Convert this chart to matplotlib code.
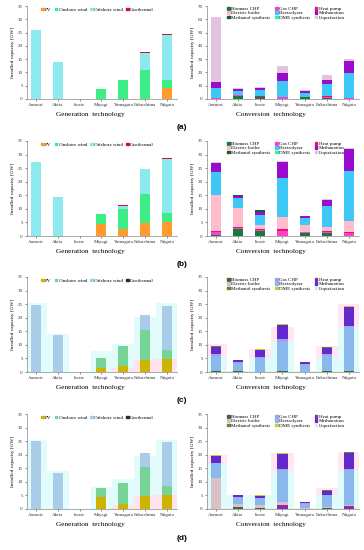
import numpy as np
import matplotlib.pyplot as plt
from matplotlib.patches import Patch

plt.rcParams['font.family'] = ['Liberation Serif', 'DejaVu Serif']

prefs = ['Aomori', 'Akita', 'Iwate', 'Miyagi', 'Yamagata', 'Fukushima', 'Niigata']

gen_names = ['PV', 'Onshore wind', 'Offshore wind', 'Geothermal']
conv_names = ['Biomass CHP', 'Gas CHP', 'Heat pump', 'Electric boiler', 'Electrolyzer',
              'Methanation', 'Methanol synthesis', 'DME synthesis', 'Liquefaction']

# generation capacity [GW] per scenario: PV, onshore, offshore, geothermal
gen_a = [[0, 0, 0, 0, 0, 0, 4.3],
         [0, 0, 0, 3.7, 7.0, 10.8, 2.7],
         [25.8, 14.0, 0, 0, 0.1, 6.6, 16.9],
         [0, 0, 0, 0, 0.2, 0.2, 0.5]]
gen_b = [[0, 0, 0, 4.3, 2.6, 4.7, 5.3],
         [0, 0, 0, 3.7, 7.2, 10.8, 3.0],
         [27.3, 14.2, 0, 0, 1.2, 9.1, 19.9],
         [0, 0, 0, 0, 0.3, 0, 0.6]]
gen_c = [[0, 0, 0, 1.6, 2.1, 4.6, 4.8],
         [0, 0, 0, 3.7, 7.5, 10.8, 3.3],
         [24.8, 13.7, 0, 0, 0, 5.5, 16.4],
         [0, 0, 0, 0, 0, 0, 0]]
gen_d = [[0, 0, 0, 4.5, 1.9, 4.8, 5.1],
         [0, 0, 0, 3.4, 7.5, 10.5, 3.2],
         [25.0, 13.2, 0, 0, 0, 5.5, 16.3],
         [0, 0, 0, 0, 0, 0, 0]]

# faded background of scenarios (c) and (d): total and PV part
gen_c_bg_total = [25.4, 14.0, 0, 7.6, 10.4, 20.1, 25.3]
gen_c_bg_pv = [0, 0, 0, 0, 1.4, 4.8, 4.8]
gen_d_bg_total = [25.5, 14.0, 0, 8.0, 10.9, 19.6, 25.6]
gen_d_bg_pv = [0, 0, 0, 0, 1.5, 5.0, 5.0]

# conversion capacity [GW]: bio, gas, heat pump, e-boiler, electrolyzer, methanation, methanol, DME, liquefaction
conv_a = [[0, 2.5, 1.3, 0, 1.2, 1.0, 0],
          [0.5, 0.3, 0.3, 1.3, 0, 0.3, 0.8],
          [0, 0.2, 0.7, 0, 0.2, 0.7, 0],
          [0, 0, 0, 0, 0, 0, 0],
          [8.0, 3.0, 4.2, 12.2, 3.1, 9.0, 18.7],
          [4.0, 1.5, 1.5, 6.0, 1.3, 3.5, 9.0],
          [0, 0, 0, 0, 0, 0, 0],
          [0, 0, 0, 0, 0, 0, 0],
          [49.5, 1.0, 1.3, 5.5, 1.0, 3.5, 1.5]]
conv_b = [[0.2, 2.5, 2.0, 0, 1.2, 1.0, 0],
          [1.3, 0.3, 0.2, 2.0, 0.1, 0.5, 1.2],
          [0.2, 0.4, 0.4, 0.5, 0.2, 0.3, 0.3],
          [13.3, 7.1, 1.5, 4.5, 2.7, 1.4, 4.1],
          [8.5, 3.7, 3.8, 14.5, 2.6, 7.8, 18.4],
          [3.3, 0.7, 1.1, 5.8, 0.5, 2.3, 8.0],
          [0.1, 0.3, 0.4, 0.1, 0.1, 0.1, 0.2],
          [0.1, 0, 0, 0, 0, 0, 0],
          [0.1, 0.1, 0.1, 0.1, 0.1, 0.1, 0.2]]
conv_c = [[0.3, 0.3, 0.1, 0.5, 0.1, 0.2, 0.5],
          [0.6, 0.3, 0.4, 1.2, 0.3, 0.5, 0.3],
          [0, 0, 0, 0, 0, 0, 0],
          [0, 0, 0, 0, 0, 0, 0],
          [5.7, 3.0, 5.1, 10.5, 2.5, 5.8, 16.0],
          [2.7, 0.7, 2.4, 5.1, 0.7, 2.5, 7.0],
          [0.1, 0.2, 0.2, 0.2, 0.1, 0.1, 0.3],
          [0.1, 0.1, 0.1, 0.1, 0.1, 0.1, 0.2],
          [0, 0, 0, 0, 0, 0, 0]]
conv_d = [[0, 0.6, 0.3, 0, 0.1, 0.3, 0],
          [0.2, 0.2, 0.2, 0.4, 0.1, 0.2, 0.3],
          [0, 0, 0, 1.6, 0, 0, 1.0],
          [11.3, 1.4, 1.2, 1.0, 0.3, 0.3, 0.6],
          [5.6, 2.2, 2.5, 11.6, 1.6, 4.4, 12.8],
          [2.4, 0.7, 0.6, 5.5, 0.3, 1.6, 6.0],
          [0.2, 0.1, 0.1, 0.2, 0.1, 0.1, 0.2],
          [0.1, 0.1, 0.1, 0.2, 0.1, 0.1, 0.1],
          [0, 0, 0, 0, 0, 0, 0]]

conv_c_bg_ely = [5.0, 0, 5.0, 11.0, 0, 5.0, 16.5]
conv_c_bg_total = [10.4, 0, 8.5, 16.5, 0, 9.5, 25.0]
conv_d_bg_ely = [16.5, 5.0, 5.0, 14.0, 0, 5.0, 14.0]
conv_d_bg_total = [20.0, 0, 0, 20.5, 0, 7.8, 21.0]

gen_col_ab = ['#ff9a2e', '#3ded85', '#8ceaee', '#d0103a']
gen_col_cd = ['#ccb400', '#78d496', '#a9cce8', '#2a2a2a']
conv_col_ab = ['#157a3a', '#ff3fc8', '#e0157a', '#ffbccb', '#3ec8f5',
               '#9a0ccc', '#1f5a2a', '#33f59a', '#e2c2e0']
conv_col_cd = ['#3a6a3a', '#a59ff0', '#8a2cae', '#dcc0c8', '#8ab8ec',
               '#6428cc', '#5a8a2a', '#c8cc30', '#f5dcea']
# stacking order in (c)/(d): gas CHP sits above the electrolyzer
order_ab = [0, 1, 2, 3, 4, 5, 6, 7, 8]
order_cd = [0, 2, 3, 4, 1, 5, 6, 7, 8]

W, H = 364, 550
fig = plt.figure(figsize=(W / 100, H / 100), dpi=100)

rows = [(6, 99), (141, 236), (277, 372), (414, 509)]
tags = ['(a)', '(b)', '(c)', '(d)']
tag_y = [128, 264, 401, 538]
x = np.arange(len(prefs))


def make_ax(x0, x1, yt, yb):
    ax = fig.add_axes([x0 / W, 1 - yb / H, (x1 - x0) / W, (yb - yt) / H])
    for s in ['top', 'right']:
        ax.spines[s].set_visible(False)
    for s in ['left', 'bottom']:
        ax.spines[s].set_color('#888888')
        ax.spines[s].set_linewidth(0.5)
    ax.tick_params(labelsize=3.6, length=1.5, width=0.4, colors='#333333', pad=1.5)
    ax.set_xticks(x)
    ax.set_xticklabels(prefs)
    ax.set_xlim(-0.4, 6.45)
    ax.set_ylabel('Installed capacity [GW]', fontsize=3.8, labelpad=2)
    return ax


def stack(ax, data, cols, order, width=0.46):
    bottom = np.zeros(len(prefs))
    for k in order:
        vals = np.array(data[k])
        ax.bar(x, vals, width, bottom=bottom, color=cols[k], linewidth=0, zorder=3)
        bottom += vals


for r, (yt, yb) in enumerate(rows):
    # generation
    axg = make_ax(27, 177, yt, yb)
    gdata = [gen_a, gen_b, gen_c, gen_d][r]
    gcols = gen_col_ab if r < 2 else gen_col_cd
    if r >= 2:
        bg_t = [gen_c_bg_total, gen_d_bg_total][r - 2]
        bg_p = [gen_c_bg_pv, gen_d_bg_pv][r - 2]
        axg.bar(x, bg_t, 1.0, color='#e2fbfb', linewidth=0, zorder=1)
        axg.bar(x, bg_p, 1.0, color='#ffe4ee', linewidth=0, zorder=2)
    stack(axg, gdata, gcols, [0, 1, 2, 3])
    axg.set_ylim(0, 35)
    axg.set_yticks(range(0, 36, 5))
    axg.set_xlabel('Generation  technology', fontsize=5.2, labelpad=3)
    axg.xaxis.set_label_coords(0.42, -0.14)
    h = [Patch(color=c) for c in gcols]
    axg.legend(h, gen_names, loc='upper center', bbox_to_anchor=(0.47, 1.02), ncol=4,
               fontsize=3.6, frameon=False, handlelength=0.5, handleheight=0.5,
               handletextpad=0.3, columnspacing=0.6, borderpad=0.2)

    # conversion
    axc = make_ax(207, 359, yt, yb)
    cdata = [conv_a, conv_b, conv_c, conv_d][r]
    ccols = conv_col_ab if r < 2 else conv_col_cd
    order = order_ab if r < 2 else order_cd
    if r >= 2:
        bg_e = [conv_c_bg_ely, conv_d_bg_ely][r - 2]
        bg_t = [conv_c_bg_total, conv_d_bg_total][r - 2]
        axc.bar(x, bg_t, 1.0, color='#ffe6f2', linewidth=0, zorder=1)
        axc.bar(x, bg_e, 1.0, color='#e0fbfb', linewidth=0, zorder=2)
        axc.bar(x, [0.3] * len(prefs), 1.0, color='#dff5df', linewidth=0, zorder=2)
    stack(axc, cdata, ccols, order)
    if r == 0:
        axc.set_ylim(0, 70)
        axc.set_yticks(range(0, 71, 10))
    else:
        axc.set_ylim(0, 35)
        axc.set_yticks(range(0, 36, 5))
    axc.set_xlabel('Conversion  technology', fontsize=5.2, labelpad=3)
    axc.xaxis.set_label_coords(0.42, -0.14)
    h = [Patch(color=ccols[k]) for k in range(9)]
    leg_order = [0, 3, 6, 1, 4, 7, 2, 5, 8]
    axc.legend([h[k] for k in leg_order], [conv_names[k] for k in leg_order],
               loc='upper center', bbox_to_anchor=(0.52, 1.03), ncol=3,
               fontsize=3.6, frameon=False, handlelength=0.5, handleheight=0.5,
               handletextpad=0.3, columnspacing=0.9, labelspacing=0.05, borderpad=0.2)

    fig.text(182 / W, 1 - tag_y[r] / H, tags[r], ha='center', va='center',
             fontsize=6, fontweight='bold', family=['Liberation Sans', 'DejaVu Sans'])

fig.savefig('out.png', dpi=100, facecolor='white')
